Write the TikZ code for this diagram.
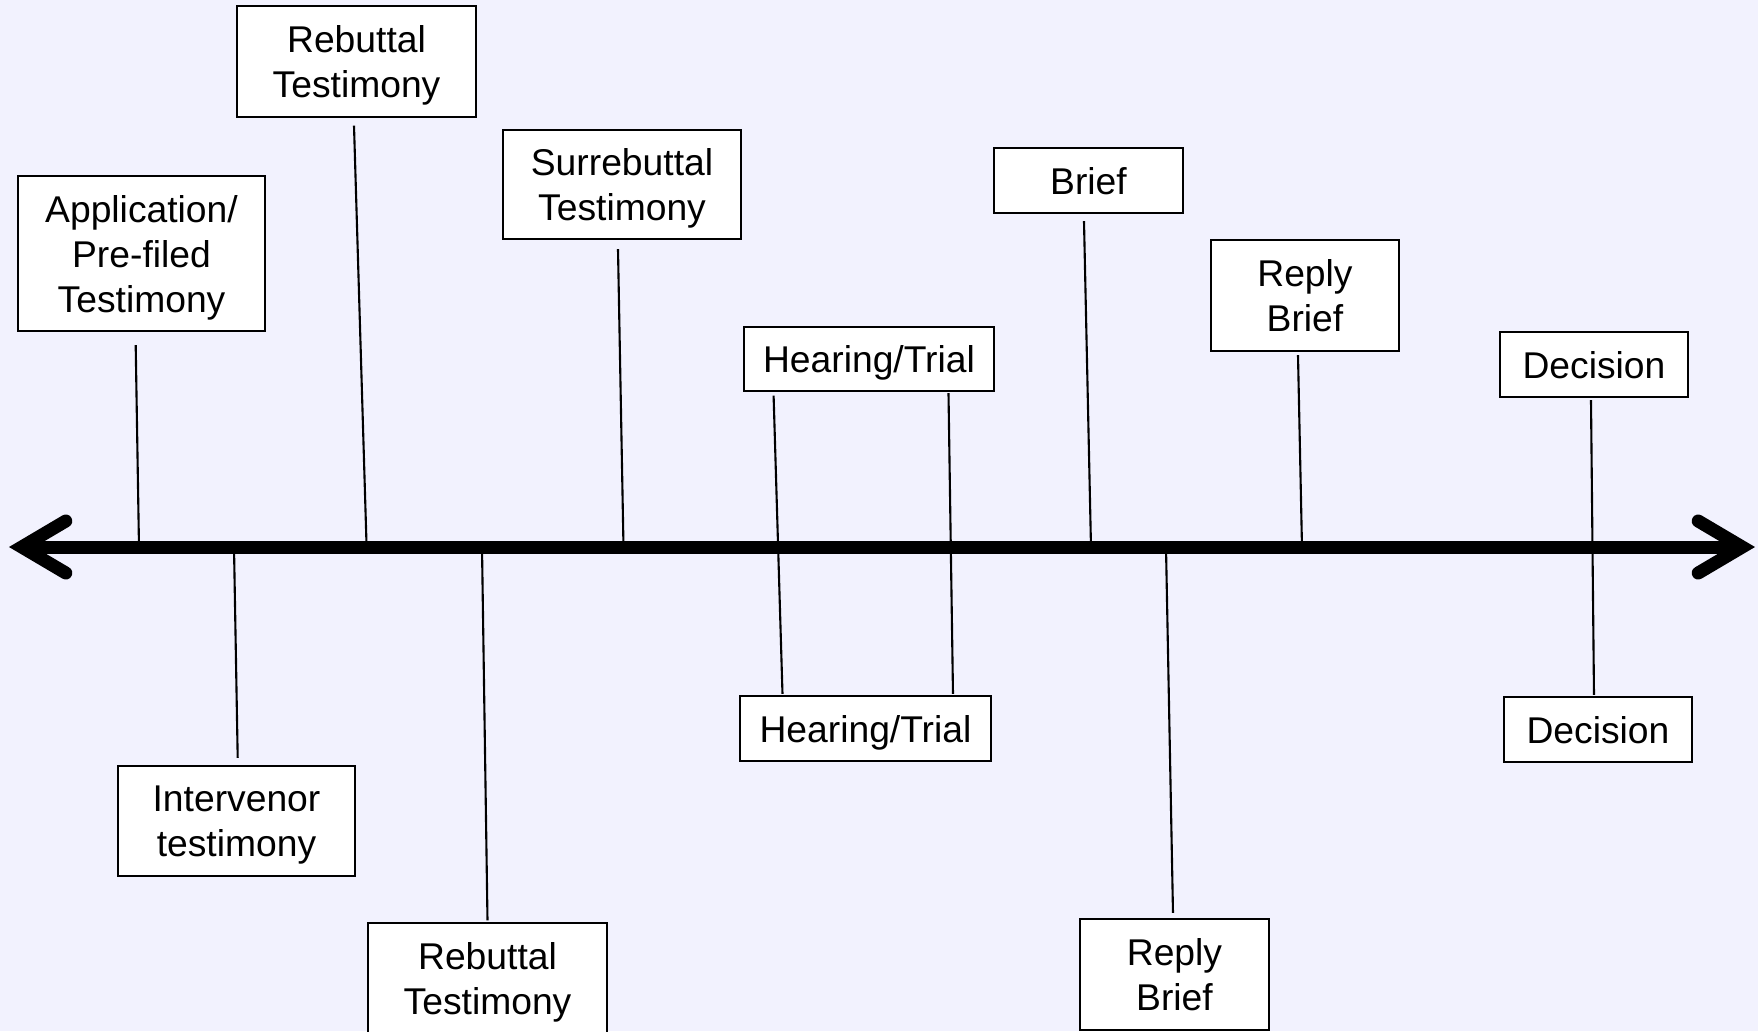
\documentclass[tikz,border=0pt]{standalone}
\usepackage{fontspec}
\setmainfont{Liberation Sans}
\usepackage{tikz}
\usetikzlibrary{arrows.meta}
\definecolor{bglav}{HTML}{F2F2FE}
\definecolor{blackmain}{HTML}{000000}
\tikzset{every node/.append style={font=\fontsize{10.6}{12.8}\selectfont},
  event/.style={draw=blackmain,fill=white,line width=.6pt,align=center,inner sep=0pt,text depth=0pt},
  tick/.style={blackmain,line width=.6pt},
  barb/.tip={Straight Barb[length=4.4mm,width=5.2mm,line cap=round,line join=miter]},
  axisline/.style={blackmain,line width=3.7pt,barb-barb}}

\begin{document}
\begin{tikzpicture}[x=.1mm,y=-.1mm]
\fill[bglav] (0,0) rectangle (1758,1031);
\useasboundingbox (0,0) rectangle (1758,1031);
\coordinate (L) at (9,547); \coordinate (R) at (1755,547);
\coordinate (a1) at (139,547); \coordinate (a2) at (366.6,547); \coordinate (a3) at (623.5,547);
\coordinate (a4) at (1091,547); \coordinate (a5) at (1302,547);
\coordinate (b1) at (234,547); \coordinate (b2) at (482,547); \coordinate (b3) at (1166,547);
\node[event,minimum width=24.7mm,minimum height=15.5mm] (app) at (141.5,253.5) {Application/\\Pre-filed\\Testimony};
\node[event,minimum width=23.9mm,minimum height=11.1mm] (rebA) at (356.5,61.5) {Rebuttal\\Testimony};
\node[event,minimum width=23.8mm,minimum height=10.9mm] (surreb) at (622,184.5) {Surrebuttal\\Testimony};
\node[event,minimum width=25mm,minimum height=6.4mm] (hearA) at (869,359) {Hearing/Trial};
\node[event,minimum width=18.9mm,minimum height=6.5mm] (brief) at (1088.5,180.5) {Brief};
\node[event,minimum width=18.8mm,minimum height=11.1mm] (replyA) at (1305,295.5) {Reply\\Brief};
\node[event,minimum width=18.8mm,minimum height=6.5mm] (decA) at (1594,364.5) {Decision};
\node[event,minimum width=23.7mm,minimum height=11mm] (interv) at (236.5,821) {Intervenor\\testimony};
\node[event,minimum width=23.9mm,minimum height=11mm] (rebB) at (487.5,978) {Rebuttal\\Testimony};
\node[event,minimum width=25.1mm,minimum height=6.5mm] (hearB) at (865.5,728.5) {Hearing/Trial};
\node[event,minimum width=18.9mm,minimum height=11.1mm] (replyB) at (1174.5,974.5) {Reply\\Brief};
\node[event,minimum width=18.8mm,minimum height=6.5mm] (decB) at (1598,729.5) {Decision};
\draw[tick] ([shift={(-5.8,13)}]app.south) -- (a1);
\draw[tick] ([shift={(-2.5,7.5)}]rebA.south) -- (a2);
\draw[tick] ([shift={(-4,9)}]surreb.south) -- (a3);
\draw[tick] ([shift={(-4.5,7)}]brief.south) -- (a4);
\draw[tick] ([shift={(-7,3)}]replyA.south) -- (a5);
\draw[tick] (b1) -- ([shift={(1.2,-7)}]interv.north);
\draw[tick] (b2) -- ([shift={(0,-1.5)}]rebB.north);
\draw[tick] (b3) -- ([shift={(-1.5,-5)}]replyB.north);
\draw[tick] ([shift={(-95.4,3.6)}]hearA.south) -- ([shift={(-83,-1)}]hearB.north);
\draw[tick] ([shift={(79.5,1)}]hearA.south) -- ([shift={(87.5,-1)}]hearB.north);
\draw[tick] ([shift={(-3,2)}]decA.south) -- ([shift={(-4,-1)}]decB.north);
\draw[axisline] (L) -- (R);
\end{tikzpicture}
\end{document}
